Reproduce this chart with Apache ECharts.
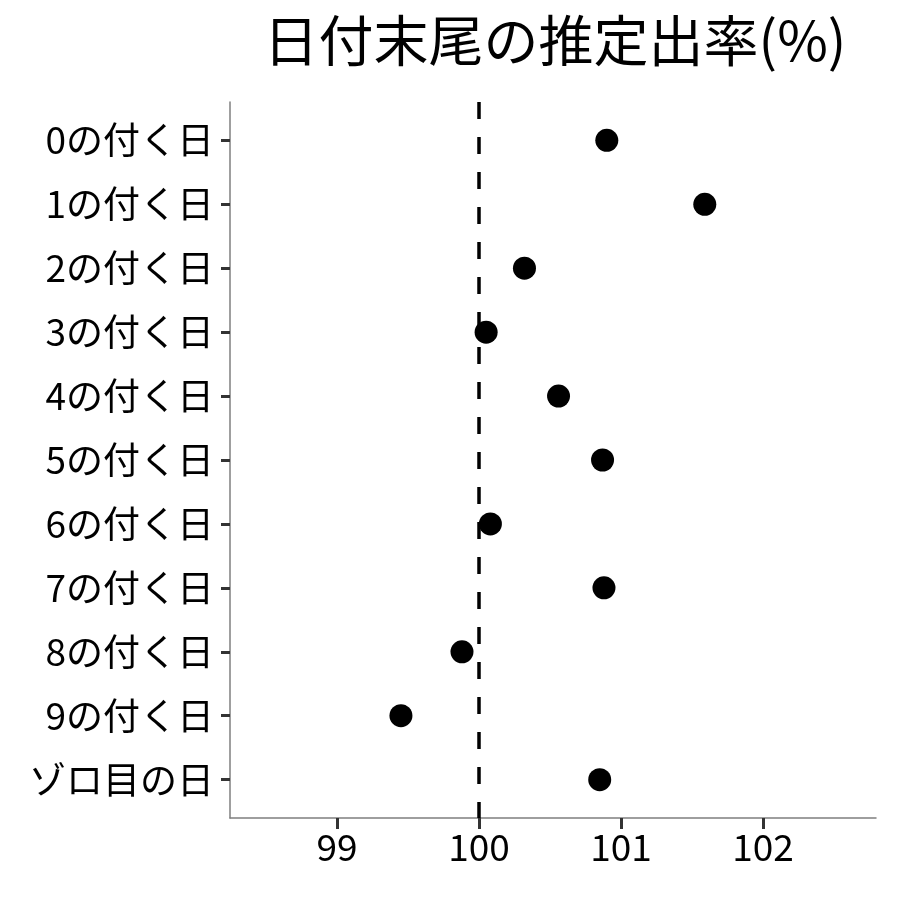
<!DOCTYPE html>
<html><head><meta charset="utf-8">
<script src="https://cdn.jsdelivr.net/npm/echarts@6/dist/echarts.min.js"></script>
<style>html,body{margin:0;padding:0;background:#fff}#c{width:900px;height:900px}</style>
</head><body><div id="c"></div>
<script>
const categories = ["0の付く日","1の付く日","2の付く日","3の付く日","4の付く日","5の付く日","6の付く日","7の付く日","8の付く日","9の付く日","ゾロ目の日"];
const values = [100.90, 101.59, 100.32, 100.05, 100.56, 100.87, 100.08, 100.88, 99.88, 99.45, 100.85];
const xTicks = [99, 100, 101, 102];
const refValue = 100;
const titleText = "日付末尾の推定出率(%)";

const font = '"Noto Sans CJK JP", "Noto Sans", sans-serif';
const chart = echarts.init(document.getElementById('c'), null, {renderer: 'canvas'});
chart.setOption({
  animation: false,
  backgroundColor: '#fff',
  title: {
    text: titleText, left: 550, top: 8, textAlign: 'center',
    textStyle: {fontFamily: font, fontSize: 55, fontWeight: 'normal', color: '#000'}
  },
  grid: {left: 230, right: 24, top: 102, bottom: 82, containLabel: false},
  xAxis: {
    type: 'value', min: 98.246, max: 102.796,
    axisLine: {show: true, onZero: false, lineStyle: {color: '#7f7f7f', width: 1.5}},
    axisTick: {show: true, length: 11, customValues: xTicks, lineStyle: {color: '#333', width: 3}},
    axisLabel: {customValues: xTicks, fontFamily: font, fontSize: 37, color: '#000', margin: 10},
    splitLine: {show: false}
  },
  yAxis: {
    type: 'value', inverse: true, min: -0.6, max: categories.length - 1 + 0.6,
    axisLine: {show: true, onZero: false, lineStyle: {color: '#7f7f7f', width: 1.5}},
    axisTick: {show: true, length: 9, customValues: categories.map((c, i) => i), lineStyle: {color: '#333', width: 3}},
    axisLabel: {customValues: categories.map((c, i) => i), formatter: v => categories[Math.round(v)],
      fontFamily: font, fontSize: 37, color: '#000', margin: 16},
    splitLine: {show: false}
  },
  series: [{
    type: 'scatter', symbol: 'circle', symbolSize: 23,
    itemStyle: {color: '#000', opacity: 1},
    data: values.map((v, i) => [v, i]),
    markLine: {
      silent: true, symbol: 'none', label: {show: false},
      lineStyle: {color: '#000', width: 3.5, type: [17, 18]},
      data: [{xAxis: refValue}]
    },
    z: 3
  }]
});
</script></body></html>
